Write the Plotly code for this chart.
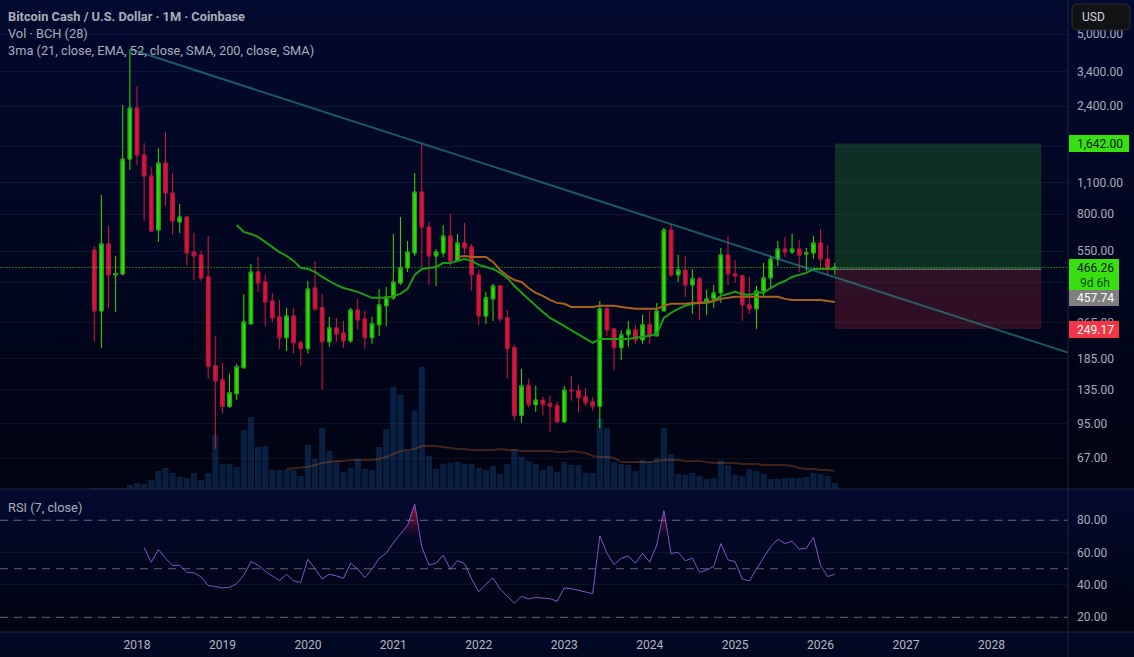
import numpy as np
import plotly.graph_objects as go

W, H = 1134, 657

# monthly bars, first one is Jul 2017
opens = [556, 299.5, 592, 432, 436, 1403, 2356, 1461, 1181, 682,
         1347, 993, 740, 778, 545, 529, 423, 171.5, 148.5, 113.5,
         129, 168, 262.5, 445, 402, 331.5, 282, 228, 284.5, 216.5,
         204, 378, 309, 219, 252, 239.5, 221, 302.5, 276, 228,
         260, 315.5, 342, 398, 464, 540, 1003, 703, 524, 540,
         642, 498, 598, 574, 432, 284.5, 338.5, 386, 279, 206,
         103.5, 140, 115.5, 121, 116.5, 114.5, 97, 134, 133, 125,
         119, 113.5, 306, 249.5, 206, 235, 247, 223, 260, 232.5,
         299.5, 682, 432, 454, 390, 415, 325, 338.5, 360, 529,
         436, 428, 318.5, 306, 367, 419, 508, 562, 545, 562,
         534, 540, 598, 508, 459]
highs = [579, 973, 710, 524, 2429, 4292, 2946, 1651, 1293, 1569,
         1846, 1217, 888, 778, 662, 551, 642, 232.5, 176.5, 158,
         175, 356, 483, 518, 432, 360, 335, 309, 309, 221,
         406, 498, 356, 282, 279, 270.5, 309, 338.5, 299.5, 282,
         374.5, 382, 655, 778, 610, 1217, 1651, 740, 562, 717,
         803, 655, 732, 592, 454, 363.5, 394, 390, 302.5, 212.5,
         166, 150, 140, 125, 126.5, 119, 140, 155, 141.5, 137,
         125, 331.5, 312, 249.5, 247, 270.5, 260, 287.5, 299.5, 325,
         696, 725, 529, 524, 459, 423, 371, 390, 568, 642,
         503, 432, 423, 386, 488, 524, 610, 636, 655, 616,
         568, 642, 689, 585, 488]
lows = [219, 206, 309, 296, 430, 1255, 1320, 747, 675, 604,
        870, 649, 662, 473, 410, 406, 150, 73.6, 105.5, 111.5,
        121, 168, 262, 363.5, 257, 268, 204, 199.5, 194, 171.5,
        194, 299.5, 134, 208, 219, 206, 216.5, 247, 204, 214.5,
        232.5, 257, 335, 390, 445, 524, 468, 390, 386, 518,
        473, 493, 534, 367, 260, 262.5, 270.5, 268, 151.5, 98,
        96, 112.5, 107.5, 103.5, 87.5, 96, 96, 120, 106.5, 113.5,
        108.5, 91, 232.5, 164.5, 182, 208, 214.5, 214.5, 214.5, 232.5,
        299.5, 423, 402, 345.5, 290.5, 273, 287.5, 309, 325, 390,
        398, 270.5, 290.5, 249.5, 349, 378, 473, 518, 534, 445,
        450, 508, 464, 428, 432]
closes = [299.5, 592, 432, 438, 1403, 2356, 1461, 1181, 675, 1347,
          993, 747, 778, 540, 524, 419, 170, 147, 113.5, 130.5,
          170, 268, 445, 398, 328, 279, 228, 284.5, 216.5, 204,
          374.5, 306, 219, 252, 237, 221, 302.5, 273, 228, 262.5,
          318.5, 345.5, 402, 464, 545, 1003, 703, 524, 545, 642,
          498, 598, 568, 432, 284.5, 342, 386, 276, 204, 103.5,
          140, 115.5, 121, 115.5, 113.5, 97, 134, 133, 124, 118,
          113.5, 306, 247, 206, 235, 247, 223, 260, 232.5, 299.5,
          682, 432, 454, 390, 415, 325, 338.5, 360, 529, 436,
          428, 318.5, 306, 367, 419, 508, 562, 545, 562, 529,
          540, 598, 508, 459, 466.26]

# volume in arbitrary units, the scale is not printed on the chart
volumes = [1, 1, 1, 1, 1, 4, 6, 5, 9, 18,
           21, 16, 12, 11, 16, 9, 16, 54, 25, 25,
           22, 59, 72, 42, 43, 19, 19, 19, 19, 13,
           44, 30, 61, 38, 28, 17, 21, 30, 20, 19,
           42, 60, 102, 94, 38, 78, 122, 33, 20, 25,
           26, 27, 25, 25, 21, 19, 23, 15, 25, 40,
           32, 28, 25, 19, 23, 17, 27, 24, 24, 16,
           16, 70, 61, 27, 25, 24, 18, 29, 27, 31,
           61, 35, 15, 14, 16, 13, 10, 11, 29, 24,
           14, 13, 20, 18, 15, 10, 10, 11, 11, 11,
           12, 16, 15, 13, 6]
vol_ma = [None] * 27 + [20, 20.5, 21, 22, 24, 26, 27, 28, 28, 29, 29, 29, 29,
                        30, 32, 35, 38, 39, 40, 43, 43, 43, 42, 41, 40, 40,
                        39, 39, 39, 39, 40, 39, 39, 38, 38, 38, 38, 38, 37, 37,
                        38, 37, 36, 33, 32, 32, 31, 27, 27, 27, 27, 27, 28, 29,
                        29, 29, 28, 28, 28, 27, 26, 26, 26, 26, 25, 25, 25, 24,
                        24, 24, 24, 23, 21, 20, 20, 19, 19, 18]

ema21 = [None] * 20 + [717, 669, 655, 636, 604, 574, 545, 524, 498, 464,
                       459, 445, 423, 406, 390, 378, 371, 363.5, 352.5, 342,
                       342, 342, 349, 356, 374.5, 432, 459, 464, 468, 488,
                       488, 498, 508, 498, 478, 468, 459, 441, 419, 386,
                       360, 335, 315.5, 296.5, 279, 268, 257, 247, 237, 225.5,
                       216.5, 225, 225, 225, 225, 225, 228, 230, 232.5, 237,
                       279, 293.5, 306, 315.5, 322, 325, 325, 331.5, 349, 356,
                       363.5, 356, 352.5, 360, 360, 378, 394, 406, 423, 432,
                       441, 459, 459, 459, 459]
sma52 = [None] * 51 + [518, 524, 518, 518, 518, 493, 454, 428, 410,
                       402, 378, 360, 349, 335, 325, 322, 312, 312, 312,
                       312, 315.5, 315.5, 315.5, 312, 309, 306, 306, 306, 306,
                       315.5, 322, 322, 322, 325, 325, 328, 331.5, 338.5, 342,
                       345.5, 345.5, 345.5, 345.5, 345.5, 345.5, 345.5, 338.5, 335, 335,
                       335, 335, 335, 331.5, 328]

rsi7 = [None] * 7 + [63.1, 54, 62,
                     56.5, 52, 52.2, 47.8, 47.6, 45, 39.6, 39, 38.1, 38.6,
                     40.8, 46, 54.4, 52.2, 48.5, 45.6, 42.7, 46.6, 42.5, 41.6,
                     55.9, 50, 43.7, 46.6, 45.6, 44.1, 53.4, 49.9, 44.5, 49.7,
                     56.5, 59.6, 66, 71.5, 76.9, 90.1, 63.3, 52.4, 53.4, 58.4,
                     49.7, 55, 53.2, 43.7, 35.9, 40.4, 44.3, 37.5, 33, 28.7,
                     33, 31.3, 32.2, 32, 31.5, 29.9, 38.1, 37.7, 36.7, 35.7,
                     34.6, 70.3, 59.6, 52.6, 56.5, 57.9, 53.4, 59.6, 54, 64.7,
                     86, 59.4, 60.2, 55, 56.5, 47.8, 49.1, 51.5, 65.6, 55.5,
                     54.4, 43.7, 42.5, 49.9, 56.5, 63.7, 68.2, 65.6, 67, 62.1,
                     62.7, 69.5, 52, 45.2, 46.6]

bar_index = list(range(len(closes)))

years = [2018, 2019, 2020, 2021, 2022, 2023, 2024, 2025, 2026, 2027, 2028]
year_index = [6 + 12 * k for k in range(len(years))]

# 7000, 1600 and 400 only show as grid lines, their labels sit behind the badges
price_ticks = [7000, 5000, 3400, 2400, 1600, 1100, 800, 550, 400, 265, 185, 135, 95, 67]
price_labels = ['', '5,000.00', '3,400.00', '2,400.00', '', '1,100.00', '800.00',
                '550.00', '', '265.00', '185.00', '135.00', '95.00', '67.00']
rsi_ticks = [80, 60, 40, 20]
rsi_levels = [80, 50, 20]

last_price = 466.26
entry_price = 457.74
target_price = 1642.00
stop_price = 249.17

# trendline and position tool anchors
trend_x = [5, 136.75]
trend_y = [4292, 196]
box_x = [104, 133]

GREEN = '#30dc08'
RED = '#dc143c'
TEXT = '#a9adb9'


def px(x):
    return x / W


def py(y):
    return 1 - y / H


fig = go.Figure()

fig.add_trace(go.Bar(x=bar_index, y=volumes, marker_color='rgba(20,80,140,0.38)', marker_line_width=0,
                     yaxis='y'))
fig.add_trace(go.Scatter(x=bar_index, y=vol_ma, mode='lines', line=dict(color='rgba(178,90,40,0.36)', width=2),
                         yaxis='y'))

# position tool
fig.add_trace(go.Scatter(x=[box_x[0], box_x[1], box_x[1], box_x[0], box_x[0]],
                         y=[entry_price, entry_price, target_price, target_price, entry_price],
                         mode='none', fill='toself', fillcolor='rgba(40,140,40,0.31)', yaxis='y2'))
fig.add_trace(go.Scatter(x=[box_x[0], box_x[1], box_x[1], box_x[0], box_x[0]],
                         y=[stop_price, stop_price, entry_price, entry_price, stop_price],
                         mode='none', fill='toself', fillcolor='rgba(160,40,60,0.3)', yaxis='y2'))
fig.add_trace(go.Scatter(x=box_x, y=[entry_price, entry_price], mode='lines',
                         line=dict(color='#7f8288', width=1), yaxis='y2'))

fig.add_trace(go.Scatter(x=[-14, 137], y=[last_price, last_price], mode='lines',
                         line=dict(color='#3fdc12', width=1, dash='1px,2px'), yaxis='y2'))

fig.add_trace(go.Scatter(x=bar_index, y=ema21, mode='lines', line=dict(color='#1c9c12', width=2), yaxis='y2'))
fig.add_trace(go.Scatter(x=bar_index, y=sma52, mode='lines', line=dict(color='#a9621e', width=2), yaxis='y2'))

# wicks in the bright colour, then the bodies again with a darker outline
fig.add_trace(go.Candlestick(x=bar_index, open=opens, high=highs, low=lows, close=closes, yaxis='y2',
                             increasing=dict(line=dict(color=GREEN, width=1), fillcolor=GREEN),
                             decreasing=dict(line=dict(color=RED, width=1), fillcolor=RED)))
body_top = [max(o, c) for o, c in zip(opens, closes)]
body_bottom = [min(o, c) for o, c in zip(opens, closes)]
fig.add_trace(go.Candlestick(x=bar_index, open=opens, high=body_top, low=body_bottom, close=closes, yaxis='y2',
                             increasing=dict(line=dict(color='#1f9a18', width=1), fillcolor=GREEN),
                             decreasing=dict(line=dict(color='#a8173c', width=1), fillcolor=RED)))

fig.add_trace(go.Scatter(x=trend_x, y=trend_y, mode='lines', line=dict(color='rgba(38,140,140,0.62)', width=2),
                         yaxis='y2'))

# RSI, overbought part gets a red fade
rsi_x = np.arange(7, 104.01, 0.1)
rsi_fill = np.maximum(np.interp(rsi_x, bar_index[7:], rsi7[7:]), 70)
fig.add_trace(go.Scatter(x=rsi_x, y=[70] * len(rsi_x), mode='lines', line=dict(width=0), yaxis='y3'))
fig.add_trace(go.Scatter(x=rsi_x, y=rsi_fill, mode='lines', line=dict(width=0), fill='tonexty', yaxis='y3',
                         fillgradient=dict(type='vertical', start=70, stop=92,
                                           colorscale=[[0, 'rgba(190,25,60,0)'], [1, 'rgba(190,25,60,0.85)']])))
fig.add_trace(go.Scatter(x=bar_index, y=rsi7, mode='lines', line=dict(color='#7e57c2', width=1), yaxis='y3'))

shapes = []

# each pane has its own top to bottom fade
for top, bottom, c0, c1 in [(0, 489, (2, 9, 46), (1, 3, 18)),
                            (489, 632, (2, 10, 48), (1, 3, 15)),
                            (632, 657, (2, 8, 38), (2, 8, 34))]:
    edges = np.linspace(top, bottom, 31)
    for k in range(30):
        f = (k + 0.5) / 30
        col = [round(a + (b - a) * f) for a, b in zip(c0, c1)]
        shapes.append(dict(type='rect', xref='paper', yref='paper', layer='below', line_width=0,
                           x0=0, x1=1, y0=py(edges[k + 1]), y1=py(edges[k]),
                           fillcolor=f'rgb({col[0]},{col[1]},{col[2]})'))

for level in rsi_levels:
    shapes.append(dict(type='line', xref='paper', yref='y3', x0=0, x1=px(1068), y0=level, y1=level,
                       line=dict(color='rgba(140,143,160,0.68)', width=1, dash='8px,6px')))

for y in [489, 632]:
    shapes.append(dict(type='line', xref='paper', yref='paper', x0=0, x1=1, y0=py(y), y1=py(y),
                       line=dict(color='#22263f', width=1)))
shapes.append(dict(type='line', xref='paper', yref='paper', x0=px(1068), x1=px(1068), y0=0, y1=1,
                   line=dict(color='#22263f', width=1)))

annotations = []


def label(x, y, text, color, size=12, anchor='center'):
    annotations.append(dict(xref='paper', yref='paper', x=px(x), y=py(y), text=text, showarrow=False,
                            xanchor=anchor, yanchor='middle', font=dict(family='Roboto', size=size, color=color)))


def badge(x0, x1, y0, y1, color):
    shapes.append(dict(type='rect', xref='paper', yref='paper', x0=px(x0), x1=px(x1), y0=py(y1), y1=py(y0),
                       fillcolor=color, line_width=0))


badge(1069, 1129, 135, 152, '#39e011')
label(1100, 144, '1,642.00', '#06120a')
badge(1069, 1119, 259, 290, '#39e011')
label(1095, 268, '466.26', '#06120a')
label(1095, 283, '9d 6h', '#0d4a12')
badge(1069, 1119, 290, 306, '#7f7f7f')
label(1095, 298, '457.74', '#ffffff')
badge(1069, 1119, 321, 338, '#f23645')
label(1095, 330, '249.17', '#ffffff')

# USD button, rounded
x0, x1, y0, y1, r = 1072, 1130, 4, 30, 5
path = (f'M {px(x0 + r)} {py(y0)} L {px(x1 - r)} {py(y0)} Q {px(x1)} {py(y0)} {px(x1)} {py(y0 + r)} '
        f'L {px(x1)} {py(y1 - r)} Q {px(x1)} {py(y1)} {px(x1 - r)} {py(y1)} '
        f'L {px(x0 + r)} {py(y1)} Q {px(x0)} {py(y1)} {px(x0)} {py(y1 - r)} '
        f'L {px(x0)} {py(y0 + r)} Q {px(x0)} {py(y0)} {px(x0 + r)} {py(y0)} Z')
shapes.append(dict(type='path', xref='paper', yref='paper', path=path, fillcolor='#111214',
                   line=dict(color='#2c2e33', width=1)))
label(1080, 17, 'USD', '#d1d4dc', anchor='left')

label(6, 16, '<b>Bitcoin Cash / U.S. Dollar · 1M · Coinbase</b>', TEXT, size=12.8, anchor='left')
label(6, 33, 'Vol · BCH (28)', TEXT, size=12.8, anchor='left')
label(6, 50, '3ma (21, close, EMA, 52, close, SMA, 200, close, SMA)', TEXT, size=12.8, anchor='left')
label(6, 507, 'RSI (7, close)', TEXT, size=12.8, anchor='left')

fig.update_layout(
    width=W, height=H,
    margin=dict(l=0, r=0, t=0, b=0),
    paper_bgcolor='#020826',
    plot_bgcolor='rgba(0,0,0,0)',
    showlegend=False,
    bargap=0.14,
    boxmode='overlay',
    shapes=shapes,
    annotations=annotations,
    font=dict(family='Roboto', size=12, color=TEXT),
    xaxis=dict(domain=[0, px(1068)], range=[-13.24, 136.75], anchor='y3', tickmode='array',
               tickvals=year_index, ticktext=[str(y) for y in years], showgrid=False, zeroline=False,
               showline=False, ticks='', ticklabelstandoff=4, rangeslider=dict(visible=False),
               tickfont=dict(size=12, color='#b4b7c2')),
    yaxis=dict(domain=[py(489), 1], range=[0, 489], visible=False, fixedrange=True),
    yaxis2=dict(domain=[py(489), 1], overlaying='y', side='right', anchor='x', type='log',
                range=[np.log10(49.0), np.log10(7065)], tickmode='array', tickvals=price_ticks,
                ticktext=price_labels, gridcolor='rgba(120,123,170,0.11)', gridwidth=1, zeroline=False,
                showline=False, ticks='', ticklabelstandoff=8, tickfont=dict(size=12, color=TEXT)),
    yaxis3=dict(domain=[py(632), py(490)], side='right', anchor='x', range=[10.9, 98.7], tickmode='array',
                tickvals=rsi_ticks, ticktext=[f'{v:.2f}' for v in rsi_ticks],
                gridcolor='rgba(120,123,170,0.11)', gridwidth=1, zeroline=False, showline=False, ticks='',
                ticklabelstandoff=8, tickfont=dict(size=12, color=TEXT)),
)

fig.write_html("out.html", config={'displayModeBar': False},
               post_script="document.body.style.margin='0';document.body.style.overflow='hidden';")
